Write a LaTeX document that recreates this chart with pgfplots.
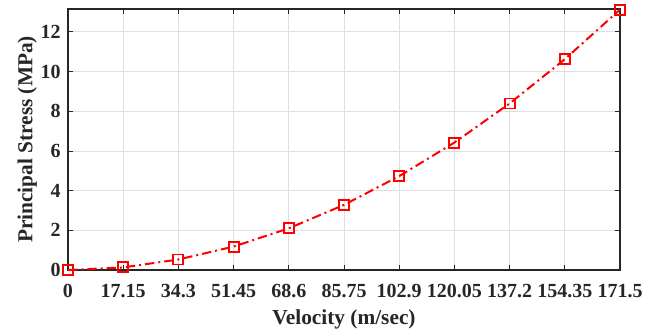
\documentclass[border=0pt]{standalone}
\usepackage{pgfplots}
\pgfplotsset{compat=1.18}
\usepackage{fontspec}
\setmainfont{Liberation Serif}
\definecolor{axgray}{RGB}{38,38,38}
\definecolor{gridgray}{RGB}{223,223,223}
\begin{document}
\begin{tikzpicture}
\useasboundingbox (-51pt,-44.25pt) rectangle (441.75pt,202.5pt);
\begin{axis}[
  scale only axis,
  width=414pt, height=195.75pt,
  xmin=0, xmax=171.5, ymin=0, ymax=13.15,
  xtick={0,17.15,34.3,51.45,68.6,85.75,102.9,120.05,137.2,154.35,171.5},
  xticklabels={0,17.15,34.3,51.45,68.6,85.75,102.9,120.05,137.2,154.35,171.5},
  ytick={0,2,4,6,8,10,12},
  yticklabels={0,2,4,6,8,10,12},
  tick align=inside,
  major tick length=4pt,
  tick style={axgray, line width=0.6pt},
  axis line style={axgray, line width=0.8pt},
  grid=major,
  major grid style={gridgray, line width=0.6pt},
  tick label style={font=\fontsize{15}{17}\selectfont\bfseries, text=axgray},
  xticklabel style={yshift=-7pt},
  yticklabel style={xshift=-2pt},
  /pgf/number format/assume math mode=true,
  xlabel={Velocity (m/sec)},
  ylabel={Principal Stress (MPa)},
  label style={font=\fontsize{16}{19}\selectfont\bfseries, text=axgray},
  xlabel style={yshift=-2pt},
  ylabel style={yshift=-4pt},
  clip=false,
]
\addplot[red, line width=1.5pt, dash pattern=on 7pt off 3pt on 1.5pt off 3pt,
  mark=square, mark size=3.75pt, mark options={solid, line width=1.4pt}]
coordinates {
(0,0.0)
(17.15,0.13)
(34.3,0.53)
(51.45,1.18)
(68.6,2.10)
(85.75,3.28)
(102.9,4.73)
(120.05,6.42)
(137.2,8.39)
(154.35,10.62)
(171.5,13.12)
};
\end{axis}
\end{tikzpicture}
\end{document}
